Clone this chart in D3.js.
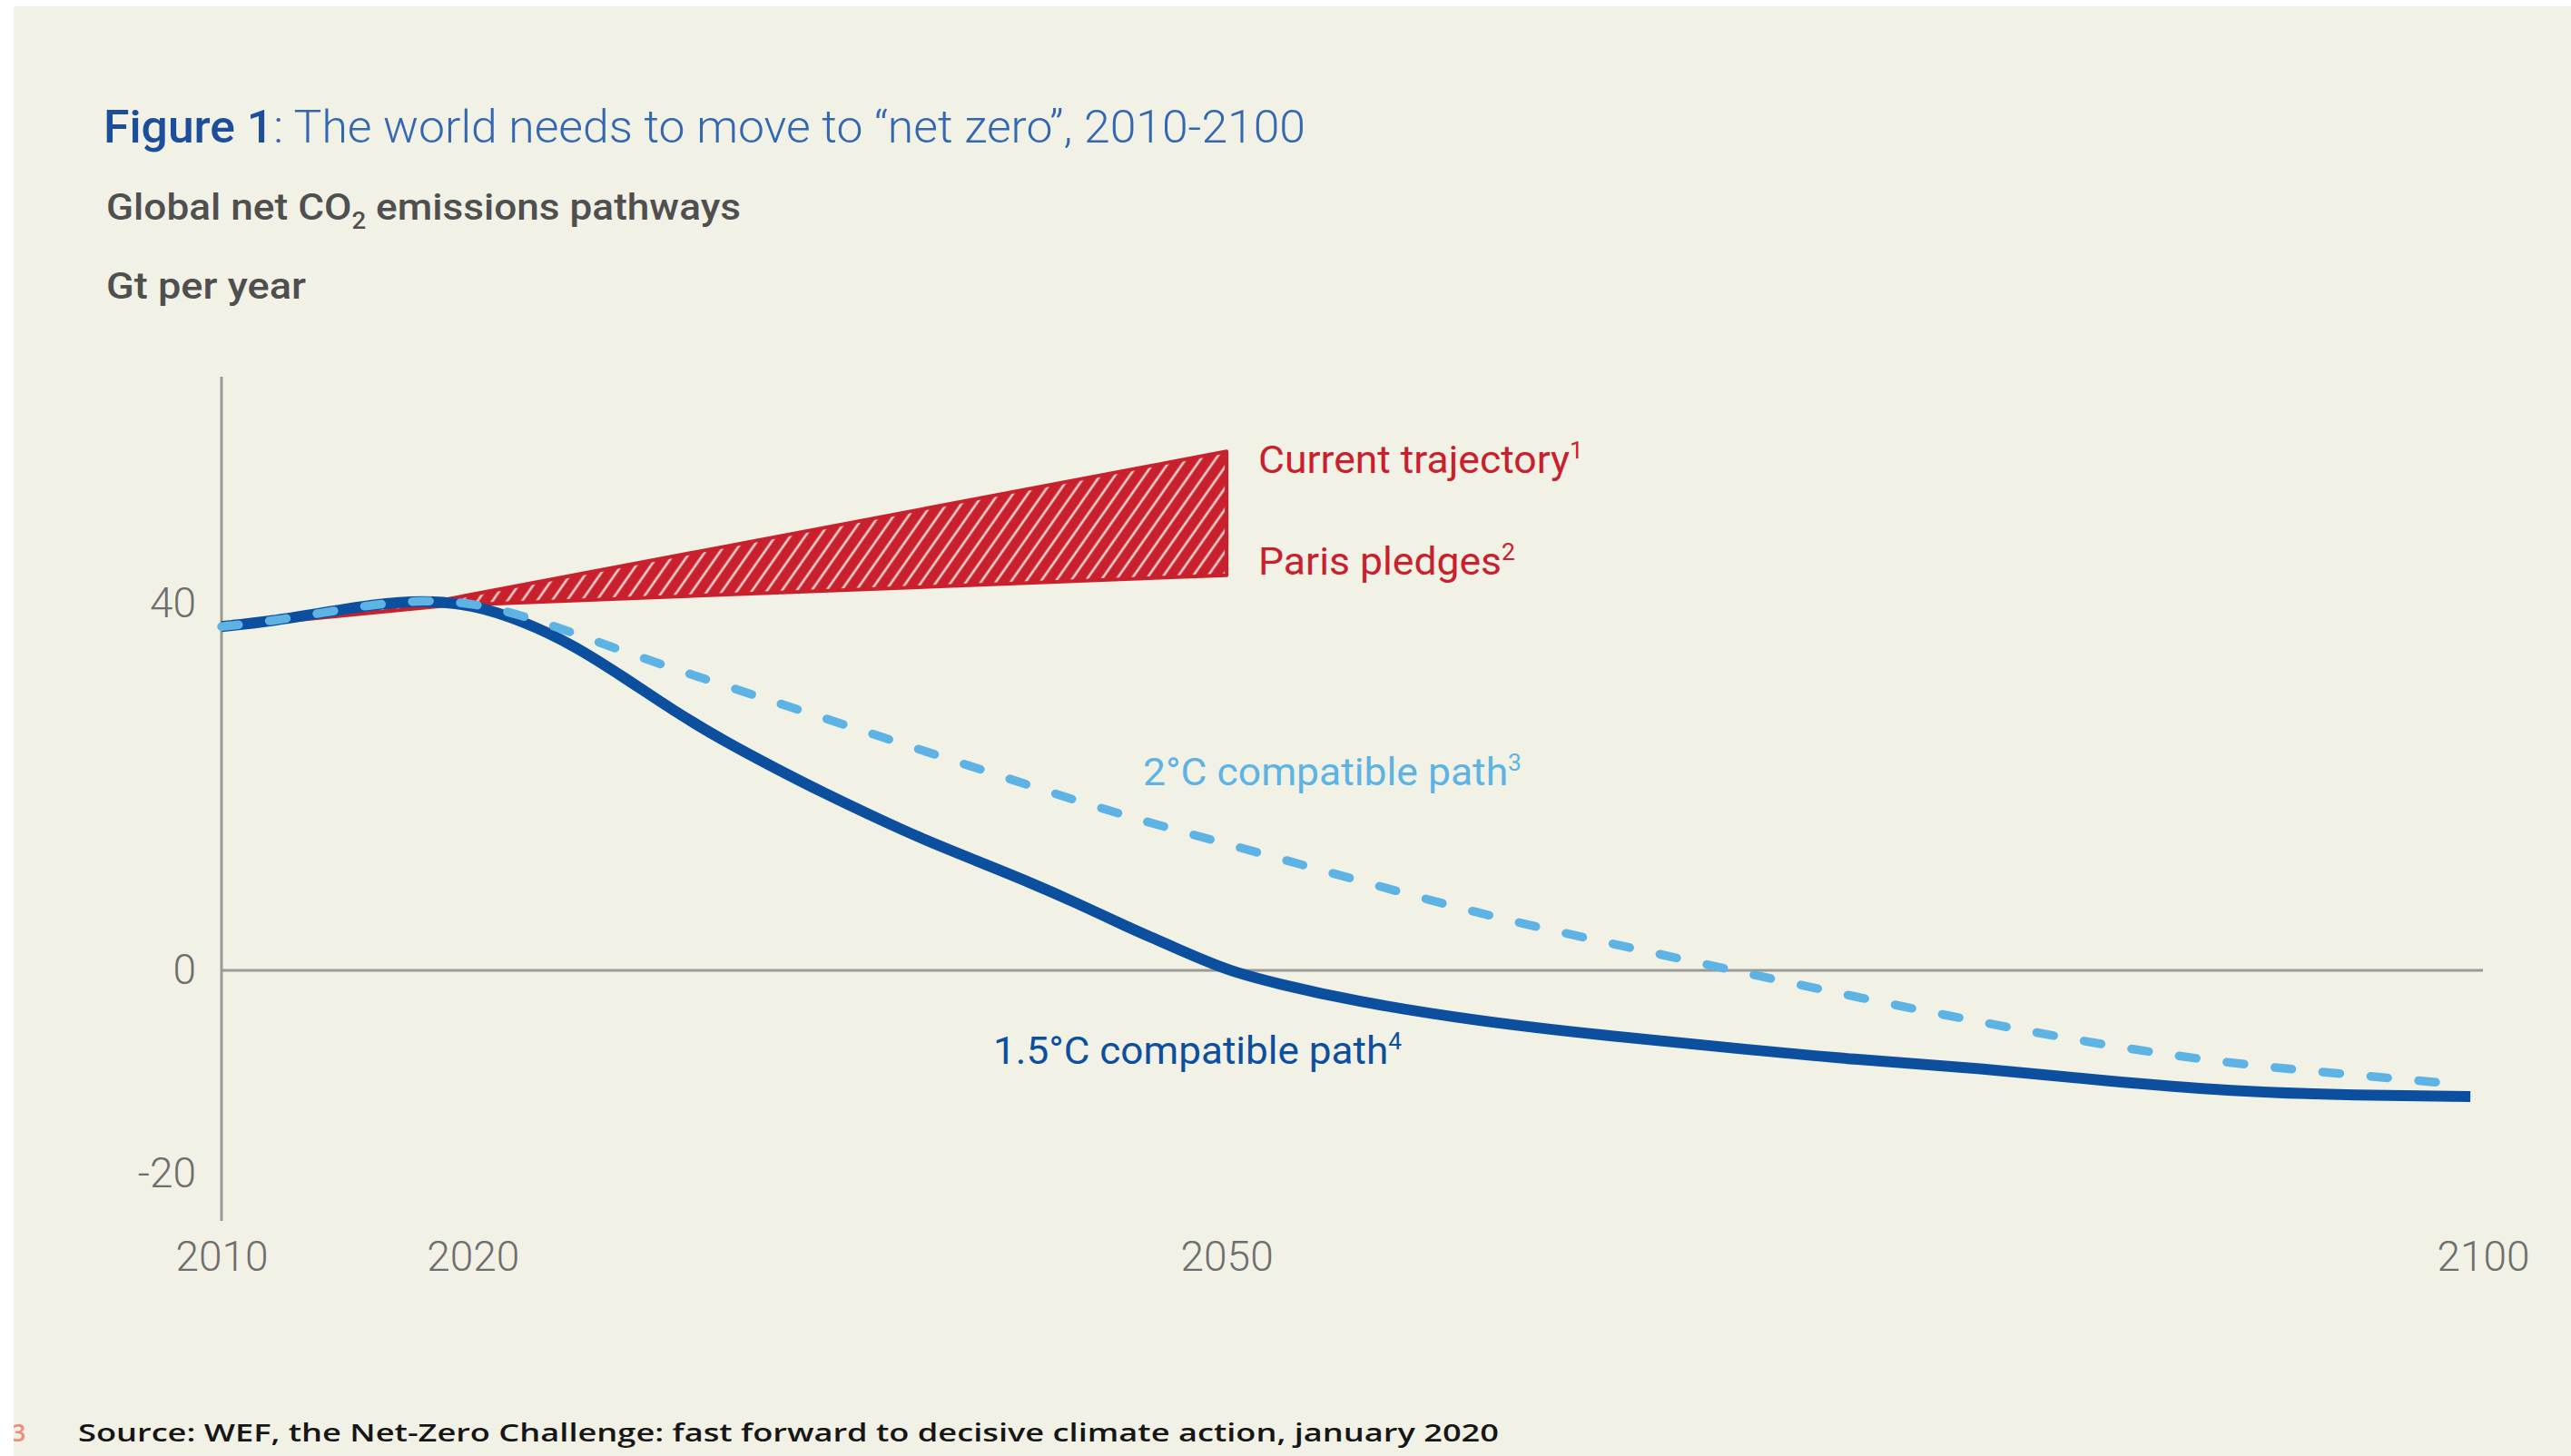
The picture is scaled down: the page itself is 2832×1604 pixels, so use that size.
<!DOCTYPE html>
<html><head><meta charset="utf-8">
<script src="https://cdn.jsdelivr.net/npm/d3@7"></script>
<style>html,body{margin:0;padding:0;background:#ffffff;} svg{display:block;}</style>
</head><body>
<svg id="chart" width="2832" height="1604"></svg>
<script>
// ---- data ----
const years15 = [2010, 2012, 2014, 2016, 2018, 2020, 2022, 2024, 2026, 2028, 2030, 2032, 2034, 2036, 2038, 2040, 2042, 2044, 2046, 2048, 2050, 2052, 2055, 2060, 2065, 2070, 2075, 2080, 2085, 2090, 2095, 2099.5];
const values15 = [37.5, 38.1, 39.0, 39.9, 40.4, 39.9, 38.1, 35.5, 32.0, 28.3, 25.0, 22.1, 19.3, 16.7, 14.2, 12.0, 9.8, 7.4, 4.8, 2.4, 0.0, -1.3, -3.0, -5.0, -6.4, -7.6, -8.8, -9.6, -10.9, -11.9, -12.3, -12.4];
const years2 = [2010, 2012, 2014, 2016, 2018, 2020, 2022, 2024, 2026, 2028, 2030, 2034, 2038, 2042, 2046, 2050, 2055, 2060, 2065, 2070, 2075, 2080, 2085, 2090, 2095, 2099];
const values2 = [37.5, 38.1, 39.0, 39.9, 40.4, 40.1, 38.7, 36.8, 34.8, 32.9, 31.1, 27.5, 23.9, 20.3, 16.8, 13.8, 10.0, 6.2, 3.1, 0.1, -2.6, -5.1, -7.4, -9.2, -10.3, -11.2];
const bandYears = [2010, 2019, 2050];
const bandLower = [37.4, 39.8, 43.1];   // Paris pledges
const bandUpper = [37.6, 40.5, 56.6];   // Current trajectory
const xTicks = [2010, 2020, 2050, 2100];
const yTicks = [-20, 0, 40];
const yExtent = [-24.6, 64.75];

const labelCurrent = "Current trajectory";
const labelParis = "Paris pledges";
const label2 = "2°C compatible path";
const label15 = "1.5°C compatible path";

// ---- colours ----
const C = {
  bg: "#f2f1e6", red: "#c8202c", hatch: "#f1cfcc", dark: "#0b4f9e", light: "#5db3e3",
  axis: "#9b9a96", tick: "#6e6e6e", titleDark: "#1d4e9b", titleLight: "#3467b1", sub: "#4f4f4f"
};

const svg = d3.select("#chart");
const W = 2832, H = 1604;

svg.append("rect").attr("x", 15).attr("y", 7).attr("width", W - 15).attr("height", H - 7).attr("fill", C.bg);

const defs = svg.append("defs");
const pat = defs.append("pattern").attr("id", "hatch").attr("patternUnits", "userSpaceOnUse")
  .attr("width", 13.4).attr("height", 13.4).attr("patternTransform", "rotate(35)");
pat.append("rect").attr("width", 13.4).attr("height", 13.4).attr("fill", C.red);
pat.append("line").attr("x1", 6.7).attr("x2", 6.7).attr("y1", -1).attr("y2", 14.4)
  .attr("stroke", C.hatch).attr("stroke-width", 2.6);
defs.append("clipPath").attr("id", "pageclip").append("rect")
  .attr("x", 15).attr("y", 0).attr("width", W).attr("height", H);

// ---- scales ----
const x = d3.scaleLinear().domain([2010, 2100]).range([244, 2735]);
const y = d3.scaleLinear().domain([yExtent[0], -20, 0, 40, yExtent[1]]).range([1345, 1293, 1069, 665, 415]);

// ---- titles ----
const title = svg.append("text").attr("x", 114).attr("y", 157)
  .attr("font-family", "Roboto, 'Liberation Sans', Arial, sans-serif").attr("font-size", 50)
  .attr("textLength", 1324).attr("lengthAdjust", "spacingAndGlyphs");
title.append("tspan").attr("font-weight", 500).attr("fill", C.titleDark).text("Figure 1");
title.append("tspan").attr("font-weight", 300).attr("fill", C.titleLight).text(": The world needs to move to “net zero”, 2010-2100");

const sub = svg.append("text").attr("x", 117).attr("y", 242)
  .attr("font-family", "Roboto, 'Liberation Sans', Arial, sans-serif").attr("font-weight", 500)
  .attr("font-size", 40).attr("fill", C.sub)
  .attr("textLength", 699).attr("lengthAdjust", "spacingAndGlyphs");
sub.append("tspan").text("Global net CO");
sub.append("tspan").attr("font-size", 25).attr("dy", 10).text("2");
sub.append("tspan").attr("dy", -10).text(" emissions pathways");

svg.append("text").attr("x", 117).attr("y", 329)
  .attr("font-family", "Roboto, 'Liberation Sans', Arial, sans-serif").attr("font-weight", 500)
  .attr("font-size", 40).attr("fill", C.sub)
  .attr("textLength", 220).attr("lengthAdjust", "spacingAndGlyphs").text("Gt per year");

// ---- axes ----
svg.append("line").attr("x1", x(2010)).attr("x2", x(2010)).attr("y1", y(yExtent[1])).attr("y2", y(yExtent[0]))
  .attr("stroke", C.axis).attr("stroke-width", 3);
svg.append("line").attr("x1", x(2010)).attr("x2", x(2100)).attr("y1", y(0)).attr("y2", y(0))
  .attr("stroke", C.axis).attr("stroke-width", 3);

const gx = svg.append("g").attr("transform", `translate(0,${y(yExtent[0])})`)
  .call(d3.axisBottom(x).tickValues(xTicks).tickFormat(d => String(d)).tickSize(0));
gx.select(".domain").remove();
gx.selectAll("text").attr("y", 55).attr("dy", 0).attr("fill", C.tick)
  .attr("font-family", "Roboto, 'Liberation Sans', Arial, sans-serif").attr("font-weight", 300).attr("font-size", 46);

const gy = svg.append("g").attr("transform", `translate(${x(2010)},0)`)
  .call(d3.axisLeft(y).tickValues(yTicks).tickFormat(d => String(d)).tickSize(0).tickPadding(28));
gy.select(".domain").remove();
gy.selectAll("text").attr("fill", C.tick)
  .attr("font-family", "Roboto, 'Liberation Sans', Arial, sans-serif").attr("font-weight", 300).attr("font-size", 46);

// ---- band ----
const bandData = bandYears.map((yr, i) => ({ yr, lo: bandLower[i], hi: bandUpper[i] }));
svg.append("path").datum(bandData)
  .attr("d", d3.area().x(d => x(d.yr)).y0(d => y(d.lo)).y1(d => y(d.hi)))
  .attr("fill", "url(#hatch)").attr("stroke", C.red).attr("stroke-width", 4).attr("stroke-linejoin", "round");

// ---- lines ----
const line = d3.line().x(d => x(d[0])).y(d => y(d[1])).curve(d3.curveBasis);
svg.append("path").datum(years15.map((yr, i) => [yr, values15[i]]))
  .attr("d", line).attr("fill", "none").attr("stroke", C.dark).attr("stroke-width", 12);
svg.append("path").datum(years2.map((yr, i) => [yr, values2[i]]))
  .attr("d", line).attr("fill", "none").attr("stroke", C.light).attr("stroke-width", 9.5)
  .attr("stroke-dasharray", "19 34").attr("stroke-linecap", "round");

// ---- labels ----
function label(txt, sup, lx, ly, color, len) {
  const t = svg.append("text").attr("x", lx).attr("y", ly).attr("fill", color)
    .attr("font-family", "Roboto, 'Liberation Sans', Arial, sans-serif").attr("font-weight", 400)
    .attr("font-size", 42)
    .attr("textLength", len).attr("lengthAdjust", "spacingAndGlyphs");
  t.append("tspan").text(txt);
  t.append("tspan").attr("font-size", 25).attr("dy", -16).text(sup);
}
label(labelCurrent, "1", 1386, 521, C.red, 358);
label(labelParis, "2", 1386, 633, C.red, 283);
label(label2, "3", 1259, 865, C.light, 417);
label(label15, "4", 1094, 1172, C.dark, 450);

// ---- footer ----
svg.append("text").attr("x", 13).attr("y", 1588).attr("clip-path", "url(#pageclip)")
  .attr("font-family", "'Open Sans', 'DejaVu Sans', sans-serif").attr("font-weight", 600)
  .attr("font-size", 27).attr("fill", "#ee8b7c").text("3");
svg.append("text").attr("x", 86).attr("y", 1588)
  .attr("font-family", "'Open Sans', 'DejaVu Sans', sans-serif").attr("font-weight", 600)
  .attr("font-size", 27).attr("fill", "#161616")
  .attr("textLength", 1565).attr("lengthAdjust", "spacingAndGlyphs")
  .text("Source: WEF, the Net-Zero Challenge: fast forward to decisive climate action, january 2020");
</script>
</body></html>
